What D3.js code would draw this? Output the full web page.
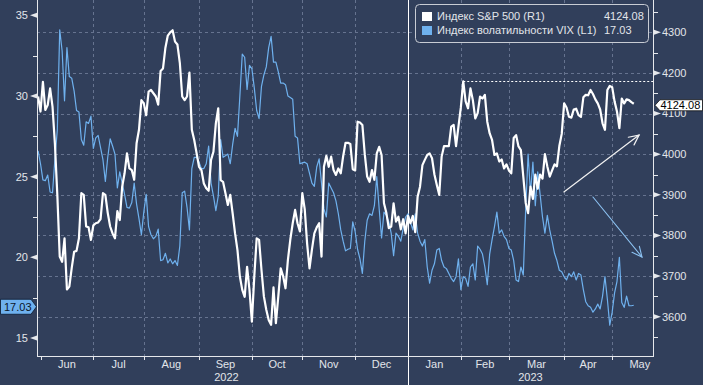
<!DOCTYPE html>
<html>
<head>
<meta charset="utf-8">
<script src="https://cdn.jsdelivr.net/npm/d3@7"></script>
<style>
  body { margin: 0; background: #313f5b; }
  svg { display: block; font-family: "Liberation Sans", Arial, sans-serif; font-size: 11px; }
</style>
</head>
<body>
<svg width="703" height="385"></svg>
<script>
// trading days (weekdays) from 31 May 2022
const firstDay = new Date(2022, 4, 31);

const spxClose = [
  4142, 4105, 4178, 4109, 4121, 4162, 4117, 4025, 3900, 3748,
  3735, 3793, 3667, 3674, 3720, 3760, 3762, 3793, 3904, 3900,
  3822, 3820, 3789, 3825, 3830, 3832, 3840, 3904, 3900, 3855,
  3822, 3805, 3793, 3860, 3838, 3920, 3953, 4002, 3965, 3961,
  3937, 4027, 4060, 4133, 4125, 4096, 4154, 4158, 4150, 4142,
  4122, 4205, 4211, 4262, 4292, 4300, 4305, 4277, 4270, 4225,
  4142, 4133, 4142, 4201, 4060, 4035, 4002, 3969, 3961, 3928,
  3916, 3910, 3986, 4006, 4076, 4113, 3936, 3932, 3904, 3875,
  3900, 3854, 3805, 3764, 3699, 3666, 3649, 3723, 3666, 3588,
  3699, 3793, 3789, 3715, 3650, 3617, 3592, 3580, 3672, 3584,
  3650, 3719, 3700, 3670, 3740, 3790, 3830, 3863, 3830, 3810,
  3904, 3865, 3780, 3719, 3765, 3805, 3820, 3830, 3748, 3969,
  3996, 3969, 3994, 3961, 3949, 3965, 3953, 3995, 4028, 4028,
  4025, 3963, 3960, 4080, 4078, 4072, 4000, 3945, 3932, 3961,
  3937, 4002, 4018, 3998, 3879, 3855, 3818, 3822, 3879, 3834,
  3846, 3815, 3840, 3805, 3848, 3830, 3848, 3808, 3895, 3920,
  3973, 3986, 3998, 4002, 3990, 3950, 3924, 3900, 3994, 4020,
  4020, 4020, 4068, 4072, 4020, 4068, 4115, 4179, 4130, 4113,
  4162, 4133, 4088, 4101, 4142, 4137, 4146, 4080, 4051, 4035,
  3998, 4002, 3982, 3987, 3965, 3975, 3960, 3953, 4040, 4047,
  4019, 4010, 3945, 3880, 3855, 3920, 3890, 3950, 3915, 3950,
  3940, 4000, 3970, 3945, 3960, 3975, 3970, 4020, 4050, 4125,
  4115, 4092, 4090, 4110, 4112, 4096, 4092, 4140, 4146, 4145,
  4158, 4148, 4135, 4125, 4110, 4076, 4060, 4158, 4168, 4165,
  4130, 4105, 4064, 4137, 4125, 4135, 4133, 4128, 4124.08
];

const vixClose = [
  26.6, 25.8, 24.8, 24.75, 25.1, 24.05, 24.0, 26.1, 27.9, 34.1,
  32.8, 29.7, 33.0, 31.2, 31.1, 30.3, 29.1, 29.0, 27.3, 26.95,
  28.4, 28.3, 28.75, 26.75, 27.4, 27.55, 26.8, 26.05, 24.7, 26.2,
  27.35, 26.9, 26.4, 24.3, 25.3, 24.6, 23.9, 23.1, 23.05, 23.4,
  24.6, 23.3, 22.4, 21.4, 22.8, 23.9, 21.9, 21.4, 21.15, 21.3,
  21.75, 19.8, 19.85, 20.25, 19.65, 19.9, 19.6, 19.8, 19.5, 20.7,
  24.0, 24.1, 23.1, 21.7, 25.5, 26.2, 26.2, 25.9, 25.5, 25.5,
  25.8, 26.9, 24.6, 23.8, 22.9, 23.8, 27.3, 26.2, 26.3, 26.4,
  25.8, 27.0, 28.0, 27.5, 30.0, 32.6, 32.4, 30.4, 31.9, 31.7,
  30.5, 29.1, 28.6, 30.6, 31.3, 31.8, 33.0, 33.7, 32.1, 32.1,
  31.5, 30.8, 30.8, 30.7, 30.0, 29.9, 29.8, 27.5, 27.4, 25.8,
  25.85, 25.9, 25.8, 25.2, 24.6, 24.4, 25.6, 26.1, 24.6, 23.0,
  22.5, 24.6, 24.3, 24.0, 23.5, 22.7, 21.7, 21.0, 20.4, 20.5,
  20.55, 22.2, 21.6, 20.5, 19.9, 19.0, 21.0, 22.3, 22.7, 22.6,
  23.2, 25.0, 23.0, 21.2, 22.8, 22.6, 22.2, 21.5, 20.1, 21.5,
  21.3, 21.0, 21.8, 22.5, 22.7, 22.2, 21.7, 22.7, 21.5, 21.0,
  20.7, 21.1, 19.4, 18.4, 19.2, 19.6, 20.45, 20.55, 19.8, 19.4,
  19.3, 19.0, 18.7, 18.5, 18.8, 19.9, 18.0, 18.8, 18.7, 18.2,
  19.4, 19.6, 18.6, 20.7, 20.5, 20.2, 19.4, 18.3, 20.2, 21.1,
  21.9, 22.8, 21.5, 21.7, 21.3, 21.1, 20.55, 20.45, 19.8, 18.6,
  18.5, 19.4, 18.9, 23.0, 26.4, 24.0, 25.9, 23.2, 25.3, 23.9,
  22.5, 21.5, 22.6, 21.7, 21.0, 20.25, 19.8, 19.2, 19.1, 18.8,
  18.6, 19.0, 18.8, 19.1, 18.6, 19.0, 18.9, 18.0, 17.25, 17.0,
  16.9, 16.6, 16.8, 17.1, 16.8, 17.6, 18.8, 17.4, 15.8, 16.6,
  17.8, 18.5, 20.0, 17.2, 16.9, 17.6, 17.0, 17.0, 17.03
];

const seriesNames = ['Индекс S&P 500 (R1)', 'Индекс волатильности VIX (L1)'];
const leftTicks = [15, 20, 25, 30, 35];
const leftMinor = [17.5, 22.5, 27.5, 32.5];
const rightTicks = [3600, 3700, 3800, 3900, 4000, 4100, 4200, 4300];
const rightMinor = [3550, 3650, 3750, 3850, 3950, 4050, 4150, 4250, 4350];
// hand drawn arrows: [day, value] start and end
const arrowSpx = [[218.9, 3907], [250.2, 4047]];
const arrowVix = [[231.0, 23.74], [251.4, 20.02]];

const bg = '#313f5b';
const white = '#ffffff';
const blue = '#6fb1ee';
const grid = '#66738f';
const axisColor = '#e6e8ec';
const textColor = '#e2e5ea';

const svg = d3.select('svg');
const plot = { left: 37, right: 653, top: 0, bottom: 356 };

var xScale = d3.scaleLinear().domain([-0.46, 256]).range([plot.left, plot.right]);
var yLeft = d3.scaleLinear().domain([13.885, 35.948]).range([plot.bottom, plot.top]);
var yRight = d3.scaleLinear().domain([3503.3, 4379.5]).range([plot.bottom, plot.top]);

function dayIndex(date) {
  return d3.timeDay.range(firstDay, date).filter(d => d.getDay() % 6 !== 0).length;
}

const months = d3.timeMonth.range(new Date(2022, 5, 1), new Date(2023, 5, 2));
const monthPos = months.map(m => xScale(dayIndex(m)));
const yearStart = new Date(2023, 0, 1);
const yearX = xScale(dayIndex(yearStart));

// grid
svg.append('g')
  .selectAll('line')
  .data(rightTicks)
  .enter()
  .append('line')
  .attr('x1', plot.left).attr('x2', plot.right)
  .attr('y1', d => Math.round(yRight(d)) + 0.5)
  .attr('y2', d => Math.round(yRight(d)) + 0.5)
  .attr('stroke', grid)
  .attr('stroke-dasharray', '3,3');

svg.append('g')
  .selectAll('line')
  .data(monthPos.slice(1, 12))
  .enter()
  .append('line')
  .attr('x1', d => Math.round(d) + 0.5).attr('x2', d => Math.round(d) + 0.5)
  .attr('y1', plot.top).attr('y2', plot.bottom)
  .attr('stroke', grid)
  .attr('stroke-dasharray', '3,3');

// year separator
svg.append('line')
  .attr('x1', Math.round(yearX) + 0.5).attr('x2', Math.round(yearX) + 0.5)
  .attr('y1', 0).attr('y2', 385)
  .attr('stroke', white).attr('stroke-width', 1);

// lines
var vixLine = d3.line().x((d, i) => xScale(i)).y(d => yLeft(d));
var spxLine = d3.line().x((d, i) => xScale(i)).y(d => yRight(d));

svg.append('path')
  .datum(vixClose)
  .attr('d', vixLine)
  .attr('fill', 'none')
  .attr('stroke', blue)
  .attr('stroke-width', 1.2)
  .attr('stroke-linejoin', 'round');

svg.append('path')
  .datum(spxClose)
  .attr('d', spxLine)
  .attr('fill', 'none')
  .attr('stroke', white)
  .attr('stroke-width', 2.2)
  .attr('stroke-linejoin', 'round');

// dotted line at the S&P high
var peakIdx = d3.maxIndex(spxClose.slice(120)) + 120;
svg.append('line')
  .attr('x1', xScale(peakIdx)).attr('x2', plot.right)
  .attr('y1', Math.round(yRight(spxClose[peakIdx])) + 0.5)
  .attr('y2', Math.round(yRight(spxClose[peakIdx])) + 0.5)
  .attr('stroke', white)
  .attr('stroke-dasharray', '2,2');

// arrows
function drawArrow(pts, yScale, color, width) {
  var x0 = xScale(pts[0][0]), y0 = yScale(pts[0][1]);
  var x1 = xScale(pts[1][0]), y1 = yScale(pts[1][1]);
  var a = Math.atan2(y1 - y0, x1 - x0);
  var len = 11, spread = 0.45;
  var g = svg.append('g')
    .attr('stroke', color)
    .attr('stroke-width', width)
    .attr('fill', 'none')
    .attr('stroke-linecap', 'round');
  g.append('line').attr('x1', x0).attr('y1', y0).attr('x2', x1).attr('y2', y1);
  g.append('polyline').attr('points', [
    [x1 - len * Math.cos(a - spread), y1 - len * Math.sin(a - spread)],
    [x1, y1],
    [x1 - len * Math.cos(a + spread), y1 - len * Math.sin(a + spread)]
  ].map(p => p.join(',')).join(' '));
}
drawArrow(arrowSpx, yRight, '#f2f2f2', 1.2);
drawArrow(arrowVix, yLeft, '#8cc2f2', 1.1);

// axes lines
svg.append('line')
  .attr('x1', plot.left + 0.5).attr('x2', plot.left + 0.5)
  .attr('y1', 0).attr('y2', plot.bottom)
  .attr('stroke', axisColor);
svg.append('line')
  .attr('x1', plot.right + 0.5).attr('x2', plot.right + 0.5)
  .attr('y1', 0).attr('y2', plot.bottom)
  .attr('stroke', axisColor);
svg.append('line')
  .attr('x1', plot.left).attr('x2', plot.right + 1)
  .attr('y1', plot.bottom + 0.5).attr('y2', plot.bottom + 0.5)
  .attr('stroke', axisColor);

// left axis
var leftAxis = svg.append('g');
leftAxis.selectAll('path')
  .data(leftTicks)
  .enter()
  .append('path')
  .attr('d', d => {
    var y = yLeft(d);
    return 'M' + (plot.left) + ',' + (y - 2.5) + 'L' + (plot.left - 7) + ',' + y + 'L' + plot.left + ',' + (y + 2.5) + 'Z';
  })
  .attr('fill', axisColor);
leftAxis.selectAll('line')
  .data(leftMinor)
  .enter()
  .append('line')
  .attr('x1', plot.left - 4).attr('x2', plot.left)
  .attr('y1', d => Math.round(yLeft(d)) + 0.5).attr('y2', d => Math.round(yLeft(d)) + 0.5)
  .attr('stroke', axisColor);
leftAxis.selectAll('text')
  .data(leftTicks)
  .enter()
  .append('text')
  .attr('x', plot.left - 9)
  .attr('y', d => yLeft(d))
  .attr('dy', '0.35em')
  .attr('text-anchor', 'end')
  .attr('fill', textColor)
  .text(d => d);

// right axis
var rightAxis = svg.append('g');
rightAxis.selectAll('path')
  .data(rightTicks)
  .enter()
  .append('path')
  .attr('d', d => {
    var y = yRight(d);
    return 'M' + (plot.right + 1) + ',' + (y - 2.5) + 'L' + (plot.right + 8) + ',' + y + 'L' + (plot.right + 1) + ',' + (y + 2.5) + 'Z';
  })
  .attr('fill', axisColor);
rightAxis.selectAll('line')
  .data(rightMinor)
  .enter()
  .append('line')
  .attr('x1', plot.right + 1).attr('x2', plot.right + 5)
  .attr('y1', d => Math.round(yRight(d)) + 0.5).attr('y2', d => Math.round(yRight(d)) + 0.5)
  .attr('stroke', axisColor);
rightAxis.selectAll('text')
  .data(rightTicks)
  .enter()
  .append('text')
  .attr('x', plot.right + 9)
  .attr('y', d => yRight(d))
  .attr('dy', '0.35em')
  .attr('fill', textColor)
  .text(d => d);

// bottom axis
var bottomAxis = svg.append('g');
bottomAxis.selectAll('line')
  .data(monthPos.slice(0, 12))
  .enter()
  .append('line')
  .attr('x1', d => Math.round(d) + 0.5).attr('x2', d => Math.round(d) + 0.5)
  .attr('y1', plot.bottom).attr('y2', plot.bottom + 4)
  .attr('stroke', axisColor);
bottomAxis.selectAll('text')
  .data(months.slice(0, 12))
  .enter()
  .append('text')
  .attr('x', (d, i) => (monthPos[i] + monthPos[i + 1]) / 2)
  .attr('y', 368)
  .attr('text-anchor', 'middle')
  .attr('fill', textColor)
  .text(d => d3.timeFormat('%b')(d));
bottomAxis.selectAll('text.year')
  .data([[plot.left, yearX, '2022'], [yearX, plot.right, '2023']])
  .enter()
  .append('text')
  .attr('class', 'year')
  .attr('x', d => (d[0] + d[1]) / 2 + (d[2] === '2022' ? 4 : 0))
  .attr('y', 381)
  .attr('text-anchor', 'middle')
  .attr('fill', textColor)
  .text(d => d[2]);

// last value labels
var lastVix = vixClose[vixClose.length - 1];
var lastSpx = spxClose[spxClose.length - 1];

var vixTag = svg.append('g')
  .attr('transform', 'translate(0,' + (yLeft(lastVix) + 1.5) + ')');
vixTag.append('path')
  .attr('d', 'M0.5,-7.5H31L36.5,0L31,7.5H0.5Z')
  .attr('fill', blue)
  .attr('stroke', '#0d1a30')
  .attr('stroke-width', 0.8);
vixTag.append('text')
  .attr('x', 4).attr('dy', '0.36em')
  .attr('fill', '#0b1628')
  .text(lastVix.toFixed(2));

var spxTag = svg.append('g')
  .attr('transform', 'translate(0,' + (yRight(lastSpx) + 1.5) + ')');
spxTag.append('path')
  .attr('d', 'M655,0L660,-5.5H702.5V5.5H660Z')
  .attr('fill', white)
  .attr('stroke', '#111')
  .attr('stroke-width', 0.8);
spxTag.append('text')
  .attr('x', 660.5).attr('dy', '0.36em')
  .attr('fill', '#000')
  .text(lastSpx.toFixed(2));

// legend
var legend = svg.append('g');
legend.append('rect')
  .attr('x', 415.5).attr('y', 4.5)
  .attr('width', 233).attr('height', 38)
  .attr('rx', 4)
  .attr('fill', bg)
  .attr('stroke', '#c8ccd4');
var legendRows = [
  { name: seriesNames[0], color: white, value: lastSpx.toFixed(2) },
  { name: seriesNames[1], color: blue, value: lastVix.toFixed(2) }
];
var row = legend.selectAll('g.row')
  .data(legendRows)
  .enter()
  .append('g')
  .attr('class', 'row')
  .attr('transform', (d, i) => 'translate(0,' + (16.5 + i * 14) + ')');
row.append('rect')
  .attr('x', 422).attr('y', -4.5)
  .attr('width', 10).attr('height', 9)
  .attr('fill', d => d.color);
row.append('text')
  .attr('x', 437).attr('dy', '0.35em')
  .attr('fill', textColor)
  .text(d => d.name);
row.append('text')
  .attr('x', 604).attr('dy', '0.35em')
  .attr('fill', textColor)
  .text(d => d.value);
</script>
</body>
</html>
